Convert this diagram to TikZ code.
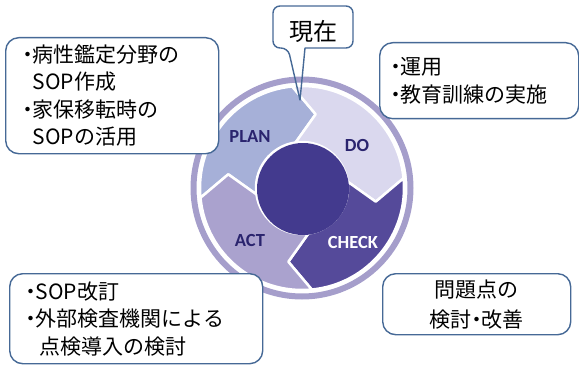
\documentclass[tikz,border=0pt]{standalone}
\usepackage{fontspec}
\setmainfont{Carlito}
\newfontfamily\jp{Noto Sans CJK JP}
\newfontfamily\lbl{Carlito}
\definecolor{ringc}{RGB}{165,158,203}
\definecolor{planc}{RGB}{166,176,216}
\definecolor{doc}{RGB}{218,216,238}
\definecolor{checkc}{RGB}{85,74,154}
\definecolor{actc}{RGB}{170,162,206}
\definecolor{innerc}{RGB}{67,58,142}
\definecolor{navyc}{RGB}{42,36,110}
\definecolor{boxc}{RGB}{70,105,150}
\newcommand\pdcaseg[1]{(#1+90:102) arc[start angle=#1+90, end angle=#1, radius=102] -- (#1-16:75) -- (#1+2.5:46) arc[start angle=#1+2.5, end angle=#1+92.5, radius=46] -- (#1+74:75) -- cycle}
\begin{document}
\begin{tikzpicture}[x=1pt,y=1pt,
  seg/.style={draw=white, line width=2.5pt, line join=round},
  lab/.style={font=\lbl\bfseries\fontsize{18.5}{18.5}\selectfont, text=navyc},
  box/.style={draw=boxc, line width=1.4pt, fill=white, rounded corners=13pt, anchor=north west,
    font=\jp\fontsize{21}{27.5}\selectfont, align=left, inner ysep=0pt},
  co/.style={draw=boxc, line width=1.4pt, line join=round}]
\useasboundingbox (0,0) rectangle (579,365);
% cycle
\coordinate (c) at (302,177);
\draw[ringc, line width=6pt] (c) circle[radius=108.5];
\begin{scope}[shift={(302,177)}]
  \path[seg, fill=planc] \pdcaseg{95.5};
  \path[seg, fill=doc] \pdcaseg{5.5};
  \path[seg, fill=checkc] \pdcaseg{-84.5};
  \path[seg, fill=actc] \pdcaseg{-174.5};
\end{scope}
\fill[innerc] (303,176) circle[radius=46];
\node[lab] (plan) at (250,228) {PLAN};
\node[lab] (do) at (357,220) {DO};
\node[lab] (act) at (250,125) {ACT};
\node[lab, text=white] (check) at (353,123) {CHECK};
% callout
\draw[co, rounded corners=7pt] (325,317) -- (353,317) -- (353,359) -- (273,359) -- (273,317) -- (288,317) [sharp corners] -- (300,265) -- (305,317) -- cycle;
\node[font=\jp\fontsize{24}{24}\selectfont, inner sep=0pt] (now) at (313,334) {現在};
% boxes
\node[box, inner xsep=18pt, text width=177pt, minimum height=116pt] (tl) at (5,328)
  {\makebox[0.43em][c]{・}病性鑑定分野の\\\hspace*{0.43em}SOP作成\\\makebox[0.43em][c]{・}家保移転時の\\\hspace*{0.43em}SOPの活用};
\node[box, inner xsep=12pt, text width=175pt, minimum height=76pt] (tr) at (379,323)
  {\makebox[0.43em][c]{・}運用\\\makebox[0.43em][c]{・}教育訓練の実施};
\node[box, inner xsep=17pt, text width=219pt, minimum height=90pt] (bl) at (9,92)
  {\makebox[0.43em][c]{・}SOP改訂\\\makebox[0.43em][c]{・}外部検査機関による\\\hspace*{0.62em}点検導入の検討};
\node[box, inner xsep=10pt, text width=168pt, minimum height=61pt, align=center,
  font=\jp\fontsize{21}{30}\selectfont] (br) at (382,92)
  {問題点の\\検討\makebox[0.5em][c]{・}改善};
\end{tikzpicture}
\end{document}
